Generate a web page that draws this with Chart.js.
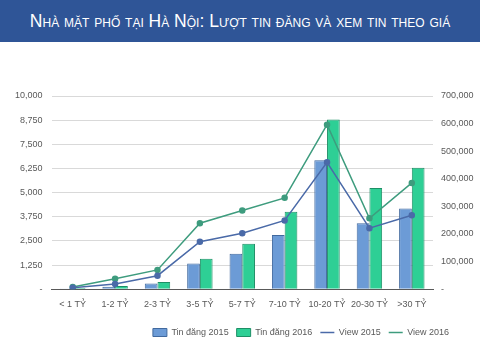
<!DOCTYPE html>
<html>
<head>
<meta charset="utf-8">
<script src="https://cdn.jsdelivr.net/npm/chart.js@4"></script>
<style>
  html, body { margin: 0; padding: 0; background: #fff; }
  #wrap { position: relative; width: 480px; height: 360px; }
  #banner {
    position: absolute; left: 0; top: 0; width: 480px; height: 42px;
    background: #2F5597; color: #fff;
    font-family: "Liberation Sans", Arial, sans-serif; font-size: 17.5px;
    font-variant: small-caps; text-align: center; line-height: 42px;
    white-space: nowrap;
  }
  #chartBox { position: absolute; left: 0; top: 0; width: 480px; height: 360px; }
</style>
</head>
<body>
<div id="wrap">
  <div id="chartBox"><canvas id="priceChart" width="480" height="360"></canvas></div>
  <div id="banner">Nhà mặt phố tại Hà Nội: Lượt tin đăng và xem tin theo giá</div>
</div>
<script>
// Dữ liệu
var categories = ['< 1 TỶ', '1-2 TỶ', '2-3 TỶ', '3-5 TỶ', '5-7 TỶ', '7-10 TỶ', '10-20 TỶ', '20-30 TỶ', '>30 TỶ'];
var tinDang2015 = [40, 130, 300, 1330, 1840, 2810, 6680, 3420, 4180];
var tinDang2016 = [60, 160, 370, 1580, 2350, 4010, 8780, 5240, 6280];
var view2015 = [5000, 19000, 49000, 172000, 203000, 249000, 460000, 221000, 268000];
var view2016 = [8000, 38000, 70000, 239000, 285000, 331000, 596000, 257000, 385000];

var tickColor = '#595959';
var font = { family: '"Liberation Sans", Arial, sans-serif', size: 9 };

function fmt(v) {
    return v === 0 ? '-' : v.toLocaleString('en-US');
}

// dịch chú thích sang phải như bản gốc
var legendShift = {
    id: 'legendShift',
    afterLayout: function (chart) {
        chart.legend.left += 58;
        chart.legend.right += 58;
    }
};

var ctx = document.getElementById('priceChart').getContext('2d');
var chart = new Chart(ctx, {
    data: {
        labels: categories,
        datasets: [
            {
                type: 'bar', label: 'Tin đăng 2015', data: tinDang2015, yAxisID: 'y',
                backgroundColor: '#6C9BD6', borderColor: '#41699E', borderWidth: 1,
                categoryPercentage: 0.6, barPercentage: 1, order: 2
            },
            {
                type: 'bar', label: 'Tin đăng 2016', data: tinDang2016, yAxisID: 'y',
                backgroundColor: '#2ECF95', borderColor: '#1E8F66', borderWidth: 1,
                categoryPercentage: 0.6, barPercentage: 1, order: 2
            },
            {
                type: 'line', label: 'View 2015', data: view2015, yAxisID: 'y1',
                borderColor: '#4A6AA8', backgroundColor: '#4A6AA8', borderWidth: 1.5,
                pointRadius: 2.5, pointStyle: 'circle', order: 1
            },
            {
                type: 'line', label: 'View 2016', data: view2016, yAxisID: 'y1',
                borderColor: '#3E9C7E', backgroundColor: '#3E9C7E', borderWidth: 1.5,
                pointRadius: 2.5, pointStyle: 'circle', order: 1
            }
        ]
    },
    plugins: [legendShift],
    options: {
        responsive: false,
        animation: false,
        layout: { padding: { top: 96, left: 6, right: 0, bottom: 13 } },
        plugins: {
            title: { display: false },
            tooltip: { enabled: false },
            legend: {
                position: 'bottom',
                align: 'center',
                labels: {
                    font: { family: font.family, size: 9 },
                    color: tickColor,
                    usePointStyle: true,
                    pointStyleWidth: 14,
                    boxHeight: 8,
                    padding: 8,
                    sort: function (a, b) { return a.datasetIndex - b.datasetIndex; },
                    generateLabels: function (c) {
                        var items = Chart.defaults.plugins.legend.labels.generateLabels(c);
                        items.forEach(function (it) {
                            var ds = c.data.datasets[it.datasetIndex];
                            if (ds.type === 'line') {
                                it.pointStyle = 'line';
                                it.lineWidth = 1.5;
                            } else {
                                it.pointStyle = 'rect';
                                it.lineWidth = 1;
                            }
                        });
                        return items;
                    }
                }
            }
        },
        scales: {
            x: {
                grid: { display: false, drawTicks: false },
                border: { display: true, color: '#595959', width: 1 },
                ticks: { color: tickColor, font: font, maxRotation: 0, autoSkip: false, padding: 10 }
            },
            y: {
                position: 'left', min: 0, max: 10000,
                grid: { color: '#D9D9D9', drawTicks: false },
                border: { display: false },
                ticks: { stepSize: 1250, color: tickColor, font: font, padding: 9, callback: fmt }
            },
            y1: {
                position: 'right', min: 0, max: 700000,
                grid: { display: false, drawTicks: false },
                border: { display: false },
                ticks: { stepSize: 100000, color: tickColor, font: font, padding: 8, callback: fmt },
                afterFit: function (scale) { scale.width = 47; }
            }
        }
    }
});
</script>
</body>
</html>
